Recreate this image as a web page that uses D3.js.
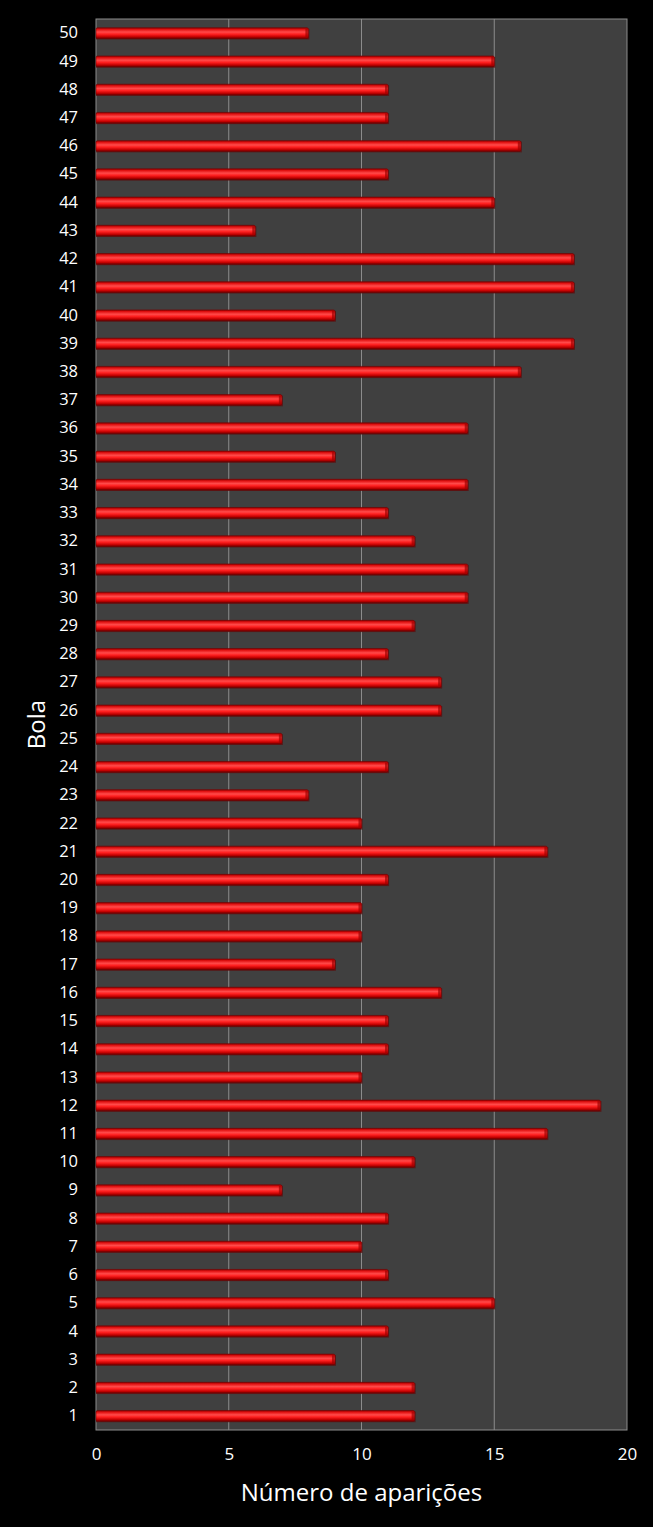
<!DOCTYPE html>
<html>
<head>
<meta charset="utf-8">
<script src="https://cdn.jsdelivr.net/npm/d3@7"></script>
<style>
  html, body { margin: 0; padding: 0; background: #000; }
  svg { display: block; }
  text { font-family: "Open Sans", "Liberation Sans", sans-serif; fill: #fff; }
</style>
</head>
<body>
<div id="chart"></div>
<script>
"use strict";

// Bolas 1..50 and how many times each one came out
const bolas = d3.range(1, 51).map(String);
const aparicoes = [
  12, 12, 9, 11, 15, 11, 10, 11, 7, 12,
  17, 19, 10, 11, 11, 13, 9, 10, 10, 11,
  17, 10, 8, 11, 7, 13, 13, 11, 12, 14,
  14, 12, 11, 14, 9, 14, 7, 16, 18, 9,
  18, 18, 6, 15, 11, 16, 11, 11, 15, 8
];
const xTicks = [0, 5, 10, 15, 20];

const W = 653, H = 1527;
const margin = { top: 19, right: 26, bottom: 97, left: 96 };
const innerW = W - margin.left - margin.right;
const innerH = H - margin.top - margin.bottom;

const data = bolas.map((b, i) => ({ bola: b, value: aparicoes[i] }));

const svg = d3.select("#chart")
  .append("svg")
  .attr("width", W)
  .attr("height", H);

// bar gradient (cylinder look)
const defs = svg.append("defs");
const grad = defs.append("linearGradient")
  .attr("id", "barGrad")
  .attr("x1", 0).attr("y1", 0).attr("x2", 0).attr("y2", 1);
[
  [0, "#8a0000"], [0.15, "#e01010"], [0.4, "#ff4a4a"],
  [0.6, "#ff2020"], [0.85, "#c00000"], [1, "#6a0000"]
].forEach(([o, c]) => grad.append("stop").attr("offset", o).attr("stop-color", c));

const g = svg.append("g").attr("transform", `translate(${margin.left},${margin.top})`);

const x = d3.scaleLinear().domain([0, 20]).range([0, innerW]);
const y = d3.scaleBand().domain(bolas.slice().reverse()).range([0, innerH]).paddingInner(0.62).paddingOuter(0.31);

// plot background
g.append("rect")
  .attr("width", innerW)
  .attr("height", innerH)
  .attr("fill", "#404040")
  .attr("stroke", "#8c8c8c")
  .attr("stroke-width", 1);

// vertical gridlines
g.selectAll("line.grid")
  .data(xTicks.slice(1, -1))
  .join("line")
  .attr("class", "grid")
  .attr("x1", (d) => x(d)).attr("x2", (d) => x(d))
  .attr("y1", 0).attr("y2", innerH)
  .attr("stroke", "#8c8c8c")
  .attr("stroke-width", 1);

// bar shadow
g.selectAll("rect.shadow")
  .data(data)
  .join("rect")
  .attr("class", "shadow")
  .attr("x", 0)
  .attr("y", (d) => y(d.bola) + 1)
  .attr("width", (d) => x(d.value) + 1)
  .attr("height", y.bandwidth())
  .attr("fill", "#5a1010")
  .attr("opacity", 0.8);

// bars
g.selectAll("rect.bar")
  .data(data)
  .join("rect")
  .attr("class", "bar")
  .attr("x", 0)
  .attr("y", (d) => y(d.bola))
  .attr("width", (d) => x(d.value))
  .attr("height", y.bandwidth())
  .attr("rx", 1.5)
  .attr("fill", "url(#barGrad)")
  .attr("stroke", "#7a0000")
  .attr("stroke-width", 0.6);

// end cap highlight
g.selectAll("rect.cap")
  .data(data)
  .join("rect")
  .attr("class", "cap")
  .attr("x", (d) => x(d.value) - 3)
  .attr("y", (d) => y(d.bola) + 1)
  .attr("width", 2.5)
  .attr("height", y.bandwidth() - 2)
  .attr("fill", "#a00000")
  .attr("opacity", 0.7);

// y axis labels
const yAxis = g.append("g")
  .call(d3.axisLeft(y).tickSize(0).tickPadding(18));
yAxis.select(".domain").remove();
yAxis.selectAll("text")
  .attr("fill", "#fff")
  .style("font-size", "16.5px")
  .style("font-family", "'Open Sans', 'Liberation Sans', sans-serif");

// x axis labels
const xAxis = g.append("g")
  .attr("transform", `translate(0,${innerH})`)
  .call(d3.axisBottom(x).tickValues(xTicks).tickSize(0).tickPadding(18));
xAxis.select(".domain").remove();
xAxis.selectAll("text")
  .attr("fill", "#fff")
  .style("font-size", "17px")
  .style("font-family", "'Open Sans', 'Liberation Sans', sans-serif");

// axis titles
svg.append("text")
  .attr("x", margin.left + innerW / 2)
  .attr("y", 1501)
  .attr("text-anchor", "middle")
  .style("font-size", "24px")
  .text("Número de aparições");

svg.append("text")
  .attr("transform", `translate(45,${margin.top + innerH / 2}) rotate(-90)`)
  .attr("text-anchor", "middle")
  .style("font-size", "24px")
  .text("Bola");
</script>
</body>
</html>
